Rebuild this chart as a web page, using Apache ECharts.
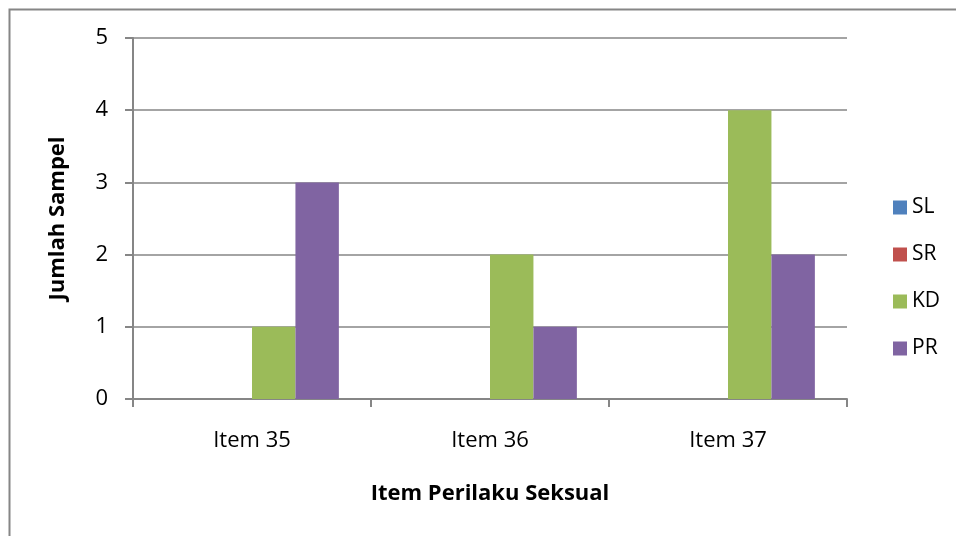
<!DOCTYPE html>
<html>
<head>
<meta charset="utf-8">
<script src="https://cdn.jsdelivr.net/npm/echarts@6/dist/echarts.min.js"></script>
<style>
html, body { margin: 0; padding: 0; background: #fff; }
#chart { width: 956px; height: 536px; }
</style>
</head>
<body>
<div id="chart"></div>
<script>
var categories = ['Item 35', 'Item 36', 'Item 37'];
var seriesNames = ['SL', 'SR', 'KD', 'PR'];
var slValues = [0, 0, 0];
var srValues = [0, 0, 0];
var kdValues = [1, 2, 4];
var prValues = [3, 1, 2];
var colors = ['#4F81BD', '#C0504D', '#9BBB59', '#8064A2'];

var font = '"Open Sans", "Noto Sans", sans-serif';
var chart = echarts.init(document.getElementById('chart'));

function makeSeries(name, data, color){
	return {
		name: name,
		type: 'bar',
		data: data,
		barGap: 0,
		barCategoryGap: '27%',
		itemStyle: { color: color },
		silent: true
	};
}

var option = {
	animation: false,
	textStyle: { fontFamily: font },
	graphic: [{
		type: 'rect',
		shape: { x: 9.5, y: 9.5, width: 960, height: 540 },
		style: { fill: 'none', stroke: '#868686', lineWidth: 2 },
		silent: true
	}],
	legend: {
		orient: 'vertical',
		left: 888,
		top: 192,
		itemWidth: 14,
		itemHeight: 14,
		itemGap: 26,
		icon: 'rect',
		data: seriesNames,
		textStyle: { fontSize: 21, color: '#000', fontFamily: font }
	},
	grid: { left: 133, right: 109, top: 38, bottom: 137 },
	xAxis: {
		type: 'category',
		data: categories,
		name: 'Item Perilaku Seksual',
		nameLocation: 'middle',
		nameGap: 84,
		nameTextStyle: { fontSize: 22, fontWeight: 'bold', color: '#000', fontFamily: font },
		axisLine: { lineStyle: { color: '#868686', width: 2 } },
		axisTick: { show: true, length: 8, lineStyle: { color: '#868686', width: 2 } },
		axisLabel: { fontSize: 22, color: '#000', margin: 31, fontFamily: font }
	},
	yAxis: {
		type: 'value',
		min: 0,
		max: 5,
		interval: 1,
		name: 'Jumlah Sampel',
		nameLocation: 'middle',
		nameGap: 64,
		nameRotate: 90,
		nameTextStyle: { fontSize: 22, fontWeight: 'bold', color: '#000', fontFamily: font },
		axisLine: { show: true, lineStyle: { color: '#868686', width: 2 } },
		axisTick: { show: true, length: 8, lineStyle: { color: '#868686', width: 2 } },
		axisLabel: { fontSize: 22, color: '#000', margin: 25, fontFamily: font },
		splitLine: { lineStyle: { color: '#868686', width: 1.5 } }
	},
	series: [
		makeSeries(seriesNames[0], slValues, colors[0]),
		makeSeries(seriesNames[1], srValues, colors[1]),
		makeSeries(seriesNames[2], kdValues, colors[2]),
		makeSeries(seriesNames[3], prValues, colors[3])
	]
};
chart.setOption(option);
</script>
</body>
</html>
